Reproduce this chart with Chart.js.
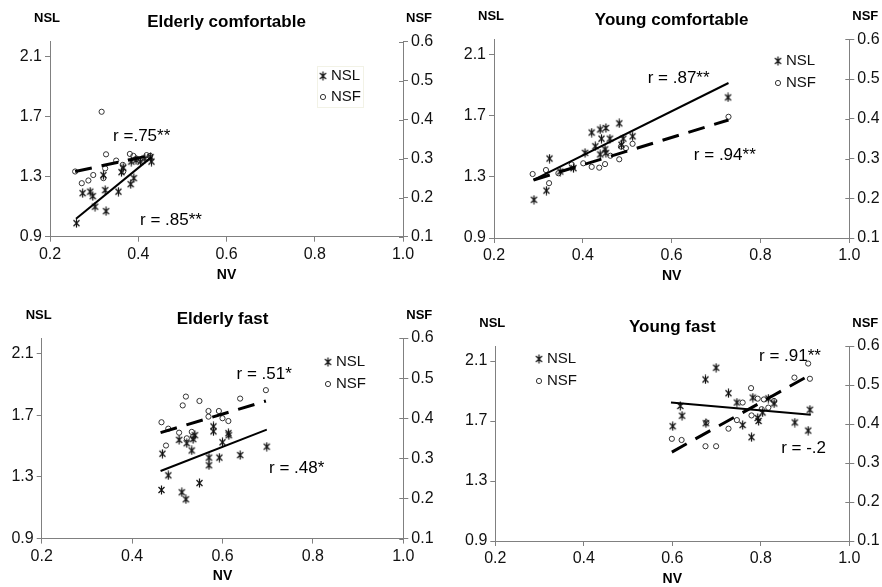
<!DOCTYPE html>
<html>
<head>
<meta charset="utf-8">
<title>NSL / NSF vs NV</title>
<script src="https://cdn.jsdelivr.net/npm/chart.js@4.4.1/dist/chart.umd.min.js"></script>
<style>
  html, body { margin: 0; padding: 0; background: #fff; overflow: hidden; }
  canvas { position: absolute; }
</style>
</head>
<body>
<canvas id="ec" width="441" height="293" style="left:0;top:0"></canvas>
<canvas id="yc" width="441" height="293" style="left:441px;top:0"></canvas>
<canvas id="ef" width="441" height="294" style="left:0;top:293px"></canvas>
<canvas id="yf" width="441" height="294" style="left:441px;top:293px"></canvas>
<script>
/* ---- axis ticks ---- */
const nvTicks = [0.2, 0.4, 0.6, 0.8, 1.0];
const nslTicks = [0.9, 1.3, 1.7, 2.1];
const nsfTicks = [0.1, 0.2, 0.3, 0.4, 0.5, 0.6];

/* ---- Elderly comfortable ---- */
const ecNslNv = [0.260, 0.274, 0.291, 0.297, 0.302, 0.327, 0.325, 0.355, 0.383, 0.390, 0.321, 0.362, 0.366, 0.384, 0.395, 0.405, 0.415, 0.428, 0.430];
const ecNsl   = [0.99, 1.19, 1.20, 1.17, 1.10, 1.07, 1.21, 1.20, 1.25, 1.29, 1.31, 1.33, 1.36, 1.40, 1.41, 1.40, 1.42, 1.43, 1.40];
const ecNsfNv = [0.257, 0.272, 0.287, 0.298, 0.317, 0.321, 0.325, 0.327, 0.350, 0.365, 0.366, 0.381, 0.389, 0.396, 0.419, 0.427];
const ecNsf   = [0.267, 0.237, 0.244, 0.258, 0.420, 0.250, 0.275, 0.311, 0.295, 0.284, 0.267, 0.312, 0.307, 0.300, 0.309, 0.307];
const ecNslFitNv = [0.259, 0.430];
const ecNslFit   = [1.02, 1.43];
const ecNsfFitNv = [0.257, 0.430];
const ecNsfFit   = [0.267, 0.309];

/* ---- Young comfortable ---- */
const ycNslNv = [0.290, 0.318, 0.325, 0.349, 0.379, 0.405, 0.420, 0.439, 0.452, 0.482, 0.428, 0.442, 0.450, 0.461, 0.487, 0.491, 0.512, 0.439, 0.452, 0.727];
const ycNsl   = [1.15, 1.21, 1.42, 1.335, 1.357, 1.457, 1.59, 1.61, 1.62, 1.65, 1.50, 1.55, 1.48, 1.55, 1.51, 1.55, 1.565, 1.447, 1.457, 1.82];
const ycNsfNv = [0.287, 0.317, 0.324, 0.345, 0.375, 0.401, 0.420, 0.437, 0.450, 0.462, 0.482, 0.486, 0.497, 0.512, 0.728];
const ycNsf   = [0.261, 0.271, 0.238, 0.263, 0.285, 0.288, 0.279, 0.277, 0.286, 0.307, 0.298, 0.330, 0.326, 0.337, 0.405];
const ycNslFitNv = [0.289, 0.728];
const ycNslFit   = [1.28, 1.914];
const ycNsfFitNv = [0.289, 0.728];
const ycNsfFit   = [0.246, 0.397];

/* ---- Elderly fast ---- */
const efNslNv = [0.467, 0.480, 0.465, 0.510, 0.519, 0.549, 0.504, 0.521, 0.532, 0.535, 0.539, 0.570, 0.570, 0.593, 0.580, 0.580, 0.600, 0.613, 0.614, 0.639, 0.698];
const efNsl   = [1.45, 1.31, 1.215, 1.20, 1.155, 1.26, 1.54, 1.518, 1.471, 1.545, 1.57, 1.425, 1.375, 1.425, 1.627, 1.595, 1.524, 1.583, 1.57, 1.441, 1.496];
const efNsfNv = [0.465, 0.480, 0.475, 0.504, 0.512, 0.519, 0.521, 0.532, 0.535, 0.549, 0.569, 0.569, 0.592, 0.600, 0.613, 0.639, 0.696];
const efNsf   = [0.390, 0.374, 0.332, 0.364, 0.432, 0.454, 0.350, 0.366, 0.354, 0.443, 0.418, 0.404, 0.418, 0.400, 0.393, 0.449, 0.470];
const efNslFitNv = [0.463, 0.698];
const efNslFit   = [1.338, 1.606];
const efNsfFitNv = [0.463, 0.696];
const efNsfFit   = [0.364, 0.443];

/* ---- Young fast ---- */
const yfNslNv = [0.601, 0.618, 0.622, 0.676, 0.675, 0.699, 0.727, 0.746, 0.759, 0.779, 0.782, 0.793, 0.795, 0.804, 0.817, 0.830, 0.877, 0.911, 0.907];
const yfNsl   = [1.665, 1.80, 1.735, 1.685, 1.977, 2.055, 1.885, 1.823, 1.673, 1.592, 1.856, 1.72, 1.70, 1.757, 1.85, 1.817, 1.69, 1.775, 1.636];
const yfNsfNv = [0.599, 0.621, 0.675, 0.699, 0.677, 0.727, 0.746, 0.759, 0.778, 0.779, 0.793, 0.807, 0.802, 0.817, 0.830, 0.876, 0.907, 0.911];
const yfNsf   = [0.362, 0.359, 0.343, 0.343, 0.404, 0.388, 0.410, 0.455, 0.492, 0.422, 0.465, 0.463, 0.438, 0.442, 0.459, 0.519, 0.555, 0.516];
const yfNslFitNv = [0.597, 0.913];
const yfNslFit   = [1.823, 1.741];
const yfNsfFitNv = [0.599, 0.907];
const yfNsfFit   = [0.328, 0.523];

const FONT = '"Liberation Sans", Arial, sans-serif';
const AXIS = '#808080';
const INK = '#111';

// asterisk-style marker used for NSL (an X crossed by a vertical stroke)
const starMark = (() => {
    const c = document.createElement('canvas');
    c.width = 9; c.height = 10;
    const g = c.getContext('2d');
    g.strokeStyle = '#111';
    g.lineWidth = 1.2;
    g.beginPath();
    g.moveTo(1.5, 2); g.lineTo(7.5, 8);
    g.moveTo(7.5, 2); g.lineTo(1.5, 8);
    g.moveTo(4.5, 0.5); g.lineTo(4.5, 9.5);
    g.stroke();
    return c;
})();

function pairs(xs, ys) {
    return xs.map((x, i) => ({ x, y: ys[i] }));
}

// Title, corner axis captions, r annotations, legend and the inner half of the right-hand ticks
const panelDecor = {
    id: 'panelDecor',
    afterDraw(chart, args, opts) {
        const { ctx, chartArea: area, scales } = chart;
        const mid = (area.left + area.right) / 2;
        ctx.save();
        ctx.fillStyle = '#000';
        ctx.textBaseline = 'middle';
        ctx.textAlign = 'center';

        ctx.font = `bold 17px ${FONT}`;
        ctx.fillText(opts.title, mid, area.top - 19);

        ctx.font = `bold 13px ${FONT}`;
        ctx.fillText('NSL', area.left - 3, area.top - 23);
        ctx.fillText('NSF', area.right + 16, area.top - 23);

        ctx.font = `bold 14px ${FONT}`;
        ctx.fillText('NV', mid, area.bottom + 38);

        // correlation notes, anchored in data units
        ctx.font = `17px ${FONT}`;
        ctx.textAlign = 'left';
        opts.notes.forEach(n => {
            ctx.fillText(n.text, scales.x.getPixelForValue(n.nv), scales.y.getPixelForValue(n.nsl));
        });

        // legend
        const lg = opts.legend;
        if (lg.box) {
            ctx.strokeStyle = '#f2f2e6';
            ctx.lineWidth = 1;
            ctx.strokeRect(lg.x - 5.5, lg.y[0] - 9.5, 46, 41);
        }
        ctx.font = `15px ${FONT}`;
        const sets = chart.data.datasets.filter(d => !d.showLine);
        sets.forEach((d, i) => {
            const y = lg.y[i];
            if (d.pointStyle === 'circle') {
                ctx.strokeStyle = d.borderColor;
                ctx.lineWidth = 1;
                ctx.beginPath();
                ctx.arc(lg.x, y, 2.6, 0, Math.PI * 2);
                ctx.stroke();
            } else {
                ctx.drawImage(d.pointStyle, lg.x - 4.5, y - 5);
            }
            ctx.fillStyle = INK;
            ctx.fillText(d.label, lg.x + 8, y);
        });

        // right axis ticks cross the axis line
        const y1 = scales.y1;
        ctx.strokeStyle = AXIS;
        ctx.lineWidth = 1;
        y1.ticks.forEach(t => {
            const py = Math.round(y1.getPixelForValue(t.value)) + 0.5;
            ctx.beginPath();
            ctx.moveTo(area.right - 4, py);
            ctx.lineTo(area.right, py);
            ctx.stroke();
        });
        ctx.restore();
    }
};

function tickAxis(values, extra) {
    return Object.assign({
        type: 'linear',
        min: values[0],
        afterBuildTicks: s => { s.ticks = values.map(v => ({ value: v })); },
        border: { color: AXIS, width: 1 },
        grid: { drawOnChartArea: false, drawTicks: true, tickLength: 5, color: AXIS },
        ticks: {
            color: INK,
            font: { family: FONT, size: 16 },
            autoSkip: false,
            maxRotation: 0,
            callback: v => Number(v).toFixed(1)
        }
    }, extra);
}

function makePanel(id, p) {
    const lineBase = { showLine: true, pointRadius: 0, borderColor: '#000', backgroundColor: '#000', fill: false };
    const datasets = [
        Object.assign({ label: 'NSL fit', data: pairs(p.nslFitNv, p.nslFit), yAxisID: 'y', borderWidth: 2 }, lineBase),
        Object.assign({ label: 'NSF fit', data: pairs(p.nsfFitNv, p.nsfFit), yAxisID: 'y1', borderWidth: 3, borderDash: [17, 10] }, lineBase),
        {
            label: 'NSL', data: pairs(p.nslNv, p.nsl), yAxisID: 'y',
            pointStyle: starMark, pointRadius: 4.5, borderColor: '#222', backgroundColor: '#222'
        },
        {
            label: 'NSF', data: pairs(p.nsfNv, p.nsf), yAxisID: 'y1',
            pointStyle: 'circle', pointRadius: 2.6, borderWidth: 1,
            borderColor: '#333', backgroundColor: 'rgba(0,0,0,0)'
        }
    ];

    const a = p.area;
    const W = 441, H = p.h;
    const yW = 38, y1W = 30, xH = 30;

    new Chart(document.getElementById(id), {
        type: 'scatter',
        data: { datasets },
        options: {
            responsive: false,
            animation: false,
            events: [],
            layout: {
                padding: { left: a.left - yW, right: W - a.right - y1W, top: a.top, bottom: H - a.bottom - xH }
            },
            plugins: {
                legend: { display: false },
                tooltip: { enabled: false },
                panelDecor: { title: p.title, notes: p.notes, legend: p.legend }
            },
            scales: {
                x: tickAxis(nvTicks, {
                    max: 1.0, position: 'bottom',
                    afterFit: s => { s.height = xH; }
                }),
                y: tickAxis(nslTicks, {
                    max: 2.2, position: 'left',
                    afterFit: s => { s.width = yW; }
                }),
                y1: tickAxis(nsfTicks, {
                    max: 0.6, position: 'right',
                    afterFit: s => { s.width = y1W; }
                })
            }
        },
        plugins: [panelDecor]
    });
}

Chart.defaults.font.family = FONT;

const panels = [
    {
        id: 'ec', h: 293, title: 'Elderly comfortable',
        area: { left: 50, right: 403, top: 41.5, bottom: 236.7 },
        nslNv: ecNslNv, nsl: ecNsl, nsfNv: ecNsfNv, nsf: ecNsf,
        nslFitNv: ecNslFitNv, nslFit: ecNslFit, nsfFitNv: ecNsfFitNv, nsfFit: ecNsfFit,
        notes: [{ text: 'r =.75**', nv: 0.343, nsl: 1.567 }, { text: 'r = .85**', nv: 0.404, nsl: 1.011 }],
        legend: { x: 323, y: [76, 97], box: true }
    },
    {
        id: 'yc', h: 293, title: 'Young comfortable',
        area: { left: 53, right: 408.3, top: 39.3, bottom: 238 },
        nslNv: ycNslNv, nsl: ycNsl, nsfNv: ycNsfNv, nsf: ycNsf,
        nslFitNv: ycNslFitNv, nslFit: ycNslFit, nsfFitNv: ycNsfFitNv, nsfFit: ycNsfFit,
        notes: [{ text: 'r = .87**', nv: 0.546, nsl: 1.946 }, { text: 'r = .94**', nv: 0.650, nsl: 1.443 }],
        legend: { x: 337, y: [61, 83], box: false }
    },
    {
        id: 'ef', h: 294, title: 'Elderly fast',
        area: { left: 41.7, right: 403.3, top: 45, bottom: 245.6 },
        nslNv: efNslNv, nsl: efNsl, nsfNv: efNsfNv, nsf: efNsf,
        nslFitNv: efNslFitNv, nslFit: efNslFit, nsfFitNv: efNsfFitNv, nsfFit: efNsfFit,
        notes: [{ text: 'r = .51*', nv: 0.631, nsl: 1.962 }, { text: 'r = .48*', nv: 0.703, nsl: 1.358 }],
        legend: { x: 328, y: [69, 91], box: false }
    },
    {
        id: 'yf', h: 294, title: 'Young fast',
        area: { left: 54.3, right: 408.3, top: 53, bottom: 248 },
        nslNv: yfNslNv, nsl: yfNsl, nsfNv: yfNsfNv, nsf: yfNsf,
        nslFitNv: yfNslFitNv, nslFit: yfNslFit, nsfFitNv: yfNsfFitNv, nsfFit: yfNsfFit,
        notes: [{ text: 'r = .91**', nv: 0.796, nsl: 2.131 }, { text: 'r = -.2', nv: 0.846, nsl: 1.52 }],
        legend: { x: 98, y: [66, 88], box: false }
    }
];

panels.forEach(p => makePanel(p.id, p));
</script>
</body>
</html>
